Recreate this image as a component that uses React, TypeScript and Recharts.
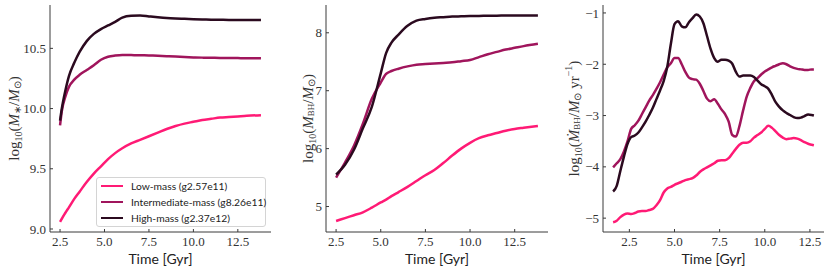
import React from 'react';
import { LineChart, Line, XAxis, YAxis, Legend } from 'recharts';

const seriesNames = ['Low-mass (g2.57e11)', 'Intermediate-mass (g8.26e11)', 'High-mass (g2.37e12)'];
const seriesColors = ['#ff1a75', '#a0155c', '#2b0a1f'];
const timeTicks = [2.5, 5, 7.5, 10, 12.5];

// stellar mass, log10(M*/Msun)
const starTime = [2.5, 2.6, 2.8, 3.0, 3.3, 3.6, 4.0, 4.4, 4.8, 5.2, 5.6, 6.0, 6.5, 7.0, 7.5, 8.0, 8.5, 9.0, 9.5, 10.0, 10.5, 11.0, 11.5, 12.0, 12.5, 13.0, 13.8];
const starLow = [9.06, 9.085, 9.135, 9.18, 9.25, 9.31, 9.39, 9.46, 9.52, 9.58, 9.63, 9.67, 9.71, 9.74, 9.77, 9.8, 9.83, 9.855, 9.875, 9.89, 9.905, 9.915, 9.925, 9.93, 9.935, 9.94, 9.945];
const starInter = [9.86, 9.98, 10.1, 10.18, 10.24, 10.28, 10.32, 10.36, 10.405, 10.43, 10.44, 10.445, 10.444, 10.443, 10.441, 10.438, 10.435, 10.432, 10.428, 10.425, 10.423, 10.422, 10.42, 10.42, 10.419, 10.418, 10.418];
const starHigh = [9.9, 10.0, 10.15, 10.27, 10.38, 10.47, 10.56, 10.62, 10.66, 10.69, 10.72, 10.755, 10.77, 10.772, 10.765, 10.758, 10.752, 10.748, 10.745, 10.742, 10.74, 10.738, 10.737, 10.736, 10.736, 10.735, 10.735];
const starTicks = [9, 9.5, 10, 10.5];

// black hole mass, log10(MBH/Msun)
const bhTime = [2.5, 3.0, 3.5, 4.0, 4.5, 5.0, 5.3, 5.6, 6.0, 6.5, 7.0, 7.5, 8.0, 8.5, 9.0, 9.5, 10.0, 10.5, 11.0, 11.5, 12.0, 12.5, 13.0, 13.8];
const bhLow = [4.75, 4.8, 4.85, 4.9, 4.98, 5.07, 5.12, 5.18, 5.25, 5.34, 5.44, 5.54, 5.63, 5.75, 5.88, 6.0, 6.1, 6.18, 6.23, 6.27, 6.31, 6.34, 6.36, 6.39];
const bhInter = [5.5, 5.76, 6.05, 6.43, 6.86, 7.14, 7.29, 7.34, 7.38, 7.42, 7.45, 7.46, 7.47, 7.48, 7.49, 7.51, 7.53, 7.58, 7.63, 7.67, 7.71, 7.74, 7.77, 7.81];
const bhHigh = [5.55, 5.72, 5.98, 6.35, 6.72, 7.3, 7.65, 7.83, 7.97, 8.12, 8.21, 8.24, 8.26, 8.27, 8.28, 8.285, 8.29, 8.29, 8.295, 8.295, 8.3, 8.3, 8.3, 8.3];
const bhTicks = [5, 6, 7, 8];

// accretion rate, log10(dMBH/dt / Msun yr^-1)
const accTime = [1.6, 1.8, 2.0, 2.2, 2.4, 2.6, 2.8, 3.0, 3.2, 3.4, 3.6, 3.8, 4.0, 4.2, 4.4, 4.6, 4.8, 5.0, 5.2, 5.4, 5.6, 5.8, 6.0, 6.2, 6.4, 6.6, 6.8, 7.0, 7.2, 7.4, 7.6, 7.8, 8.0, 8.2, 8.4, 8.6, 8.8, 9.0, 9.2, 9.4, 9.6, 9.8, 10.0, 10.2, 10.4, 10.6, 10.8, 11.0, 11.2, 11.4, 11.6, 11.8, 12.0, 12.2, 12.4, 12.6, 12.72];
const accLow = [-5.08, -5.05, -4.98, -4.93, -4.91, -4.92, -4.9, -4.87, -4.86, -4.86, -4.84, -4.82, -4.75, -4.65, -4.5, -4.42, -4.39, -4.35, -4.32, -4.29, -4.26, -4.24, -4.22, -4.17, -4.1, -4.05, -4.01, -3.97, -3.93, -3.88, -3.87, -3.87, -3.83, -3.74, -3.65, -3.57, -3.53, -3.53, -3.5, -3.43, -3.38, -3.33, -3.26, -3.2, -3.24, -3.31, -3.38, -3.43, -3.46, -3.45, -3.44, -3.45, -3.48, -3.52, -3.55, -3.57, -3.58];
const accInter = [-4.01, -3.93, -3.85, -3.7, -3.5, -3.26, -3.19, -3.1, -2.97, -2.84, -2.71, -2.6, -2.48, -2.35, -2.2, -2.06, -1.98, -1.88, -1.88, -2.0, -2.15, -2.26, -2.29, -2.3, -2.38, -2.52, -2.67, -2.72, -2.68, -2.77, -2.88, -2.97, -3.12, -3.38, -3.41, -3.2, -2.9, -2.63, -2.46, -2.33, -2.27, -2.2, -2.14, -2.1, -2.06, -2.03, -2.0, -1.98, -2.0, -2.04, -2.07, -2.09, -2.1, -2.11, -2.11, -2.1, -2.1];
const accHigh = [-4.48, -4.37, -4.08, -3.8, -3.55, -3.42, -3.39, -3.33, -3.23, -3.12, -2.99, -2.85, -2.68, -2.51, -2.33, -2.05, -1.6, -1.22, -1.16, -1.26, -1.28, -1.18, -1.1, -1.03, -1.07, -1.2, -1.45, -1.7, -1.88, -1.95, -1.91, -1.91, -1.93, -1.99, -2.15, -2.24, -2.22, -2.22, -2.22, -2.25, -2.32, -2.39, -2.43, -2.48, -2.6, -2.74, -2.83, -2.9, -2.95, -2.99, -3.03, -3.05, -3.04, -3.01, -2.98, -2.99, -3.0];
const accTicks = [-5, -4, -3, -2, -1];

const buildRows = (t: number[], low: number[], inter: number[], high: number[]) =>
  t.map((x, i) => ({ t: x, low: low[i], inter: inter[i], high: high[i] }));

const axisColor = '#3a3a3a';
const mathFont = 'Liberation Serif';
const tickFont = { fontFamily: mathFont, fontSize: 13, fill: '#333' };

function StarLabel({ cx, cy }: any) {
  return (
    <text x={cx} y={cy} transform={`rotate(-90 ${cx} ${cy})`} textAnchor="middle" dominantBaseline="central"
      fontFamily={mathFont} fontSize={15} fill="#333">
      <tspan>log</tspan>
      <tspan fontSize={10} dy={4}>10</tspan>
      <tspan dy={-4}>(</tspan>
      <tspan fontStyle="italic">M</tspan>
      <tspan fontSize={10} dy={3}>∗</tspan>
      <tspan dy={-3}>/</tspan>
      <tspan fontStyle="italic">M</tspan>
      <tspan fontSize={10} dy={3}>⊙</tspan>
      <tspan dy={-3}>)</tspan>
    </text>
  );
}

function BhLabel({ cx, cy }: any) {
  return (
    <text x={cx} y={cy} transform={`rotate(-90 ${cx} ${cy})`} textAnchor="middle" dominantBaseline="central"
      fontFamily={mathFont} fontSize={15} fill="#333">
      <tspan>log</tspan>
      <tspan fontSize={10} dy={4}>10</tspan>
      <tspan dy={-4}>(</tspan>
      <tspan fontStyle="italic">M</tspan>
      <tspan fontSize={9} dy={3}>BH</tspan>
      <tspan dy={-3}>/</tspan>
      <tspan fontStyle="italic">M</tspan>
      <tspan fontSize={10} dy={3}>⊙</tspan>
      <tspan dy={-3}>)</tspan>
    </text>
  );
}

function AccLabel({ cx, cy }: any) {
  return (
    <text x={cx} y={cy} transform={`rotate(-90 ${cx} ${cy})`} textAnchor="middle" dominantBaseline="central"
      fontFamily={mathFont} fontSize={15} fill="#333">
      <tspan>log</tspan>
      <tspan fontSize={10} dy={4}>10</tspan>
      <tspan dy={-4}>(</tspan>
      <tspan fontStyle="italic">{'M\u0307'}</tspan>
      <tspan fontSize={9} dy={3}>BH</tspan>
      <tspan dy={-3}>/</tspan>
      <tspan fontStyle="italic">M</tspan>
      <tspan fontSize={10} dy={3}>⊙</tspan>
      <tspan dy={-3}> yr</tspan>
      <tspan fontSize={10} dy={-6}>−1</tspan>
      <tspan dy={6}>)</tspan>
    </text>
  );
}

const LegendBox = ({ payload }: any) => {
  const items = [...(payload || [])].sort(
    (a: any, b: any) => seriesNames.indexOf(a.value) - seriesNames.indexOf(b.value)
  );
  return (
    <div style={{ border: '1px solid #d4d4d4', borderRadius: 3, background: 'rgba(255,255,255,0.85)', padding: '0 4px', fontFamily: 'Lato', fontSize: 10.3, color: '#222', whiteSpace: 'nowrap' }}>
      {items.map((p: any) => (
        <div key={p.value} style={{ display: 'flex', alignItems: 'center', height: 16 }}>
          <span style={{ display: 'inline-block', flexShrink: 0, width: 22, borderTop: `2.5px solid ${p.color}`, marginRight: 8 }} />
          <span>{p.value}</span>
        </div>
      ))}
    </div>
  );
};

function Panel({ rows, xDomain, yDomain, yTicks, yFormat, plotLeft, plotWidth, labelGap, YLab, legend }: any) {
  const axisW = 50;
  return (
    <div style={{ position: 'absolute', left: plotLeft - axisW, top: 0, fontFamily: mathFont }}>
      <LineChart width={axisW + plotWidth + 4} height={273} data={rows} margin={{ top: 5, right: 4, bottom: 11, left: 0 }}>
        <XAxis dataKey="t" type="number" domain={xDomain} allowDataOverflow ticks={timeTicks}
          tickFormatter={(v: number) => v.toFixed(1)} tick={tickFont} tickSize={-3} tickMargin={8}
          stroke={axisColor} height={30}
          label={(p: any) => {
            const vb = p.viewBox;
            return (
              <text x={vb.x + vb.width / 2} y={vb.y + 26} textAnchor="middle" dominantBaseline="central"
                fontFamily="Lato" fontSize={14} fill="#222">Time [Gyr]</text>
            );
          }} />
        <XAxis xAxisId="top" orientation="top" type="number" domain={xDomain} allowDataOverflow height={0}
          tick={false} tickLine={false} stroke={axisColor} />
        <YAxis type="number" domain={yDomain} allowDataOverflow ticks={yTicks} tickFormatter={yFormat}
          tick={tickFont} tickSize={-3} tickMargin={7} stroke={axisColor} width={axisW}
          label={(p: any) => {
            const vb = p.viewBox;
            return <YLab cx={vb.x + vb.width - labelGap} cy={vb.y + vb.height / 2} />;
          }} />
        <YAxis yAxisId="right" orientation="right" type="number" domain={yDomain} allowDataOverflow width={0}
          tick={false} tickLine={false} stroke={axisColor} />
        {legend && (
          <Legend layout="horizontal" verticalAlign="middle" align="center" content={<LegendBox />}
            wrapperStyle={{ left: 96, top: 177, width: 170 }} />
        )}
        <Line type="monotone" dataKey="low" name={seriesNames[0]} stroke={seriesColors[0]} strokeWidth={2.5} dot={false} isAnimationActive={false} />
        <Line type="monotone" dataKey="inter" name={seriesNames[1]} stroke={seriesColors[1]} strokeWidth={2.5} dot={false} isAnimationActive={false} />
        <Line type="monotone" dataKey="high" name={seriesNames[2]} stroke={seriesColors[2]} strokeWidth={2.5} dot={false} isAnimationActive={false} />
      </LineChart>
    </div>
  );
}

const minusFmt = (v: number) => (v < 0 ? '\u2212' + Math.abs(v) : String(v));

export default function App() {
  return (
    <div style={{ position: 'absolute', left: 0, top: 0, width: 830, height: 273, background: '#fff' }}>
      <Panel rows={buildRows(starTime, starLow, starInter, starHigh)} xDomain={[1.935, 14.365]}
        yDomain={[8.975, 10.86]} yTicks={starTicks} yFormat={(v: number) => v.toFixed(1)}
        plotLeft={50} plotWidth={221} labelGap={36} YLab={StarLabel} legend />
      <Panel rows={buildRows(bhTime, bhLow, bhInter, bhHigh)} xDomain={[1.935, 14.365]}
        yDomain={[4.56, 8.48]} yTicks={bhTicks} yFormat={(v: number) => String(v)}
        plotLeft={326} plotWidth={222} labelGap={18} YLab={BhLabel} />
      <Panel rows={buildRows(accTime, accLow, accInter, accHigh)} xDomain={[1.04, 13.28]}
        yDomain={[-5.27, -0.845]} yTicks={accTicks} yFormat={minusFmt}
        plotLeft={603} plotWidth={221} labelGap={29} YLab={AccLabel} />
    </div>
  );
}
